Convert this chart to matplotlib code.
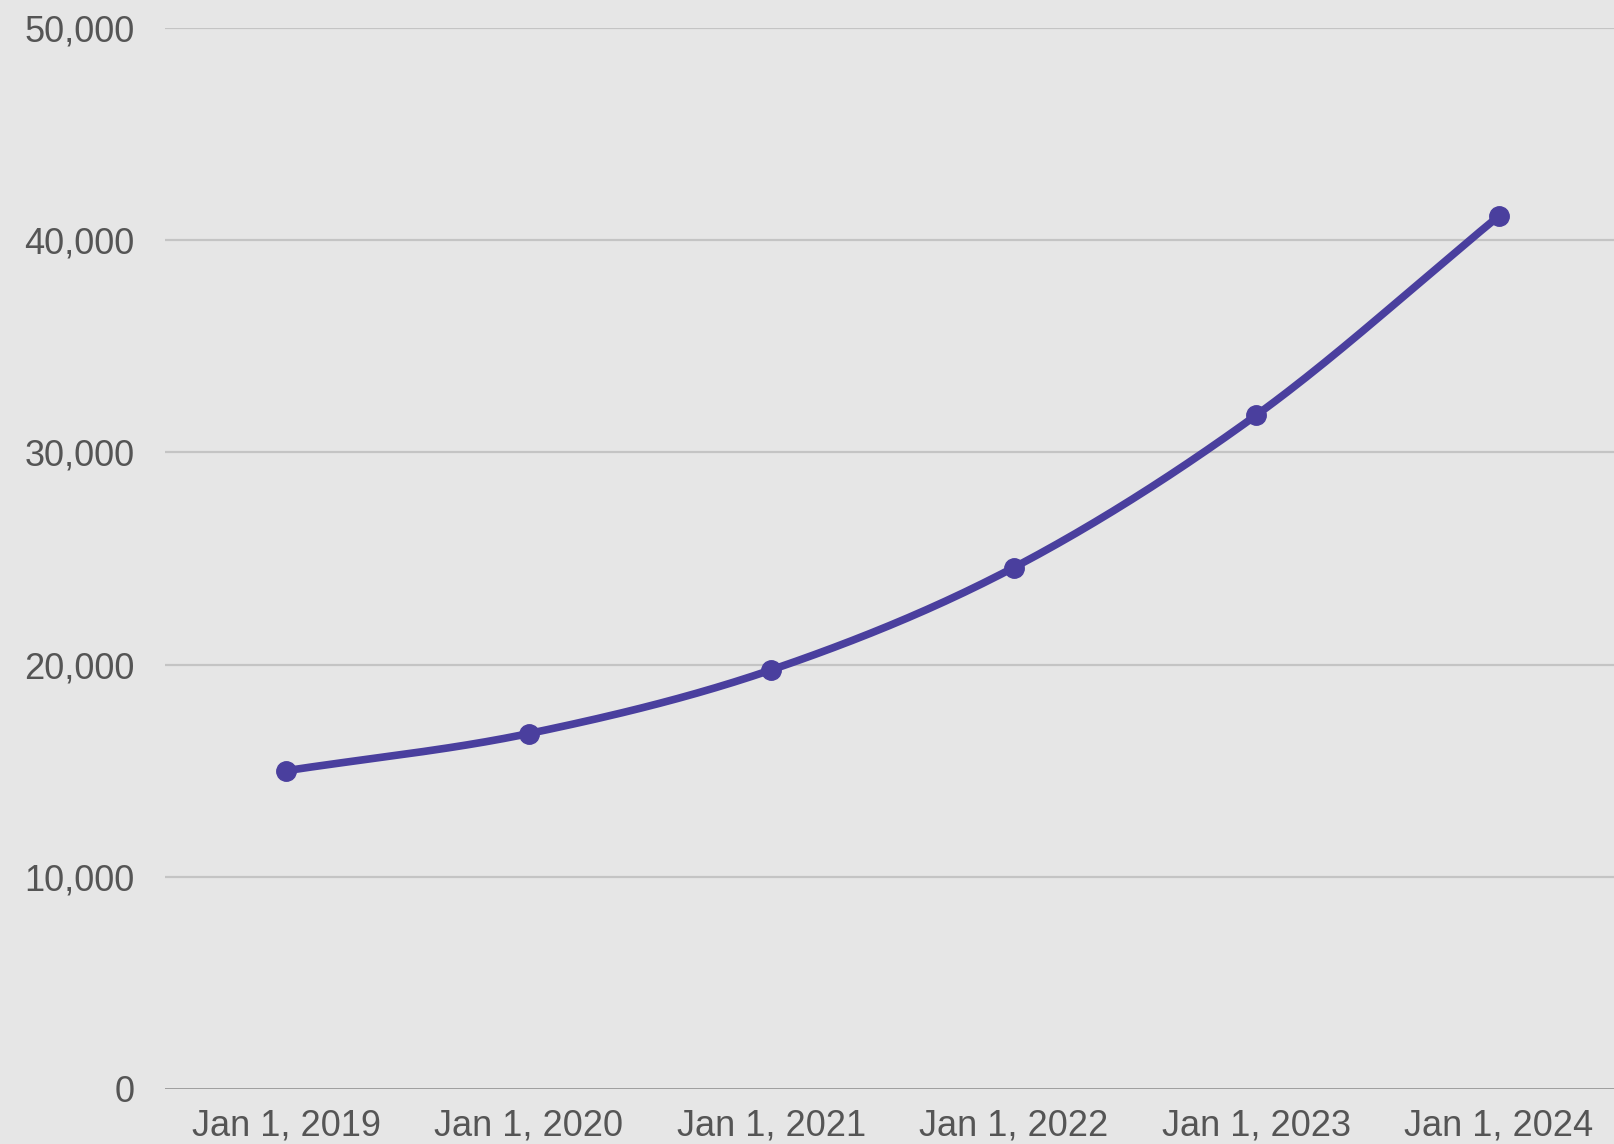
import numpy as np
import matplotlib
matplotlib.use('Agg')
import matplotlib.pyplot as plt
from matplotlib import font_manager

# data
dates = ['Jan 1, 2019', 'Jan 1, 2020', 'Jan 1, 2021',
         'Jan 1, 2022', 'Jan 1, 2023', 'Jan 1, 2024']
values = [15000, 16750, 19750, 24570, 31750, 41130]
y_ticks = [0, 10000, 20000, 30000, 40000, 50000]

names = {f.name for f in font_manager.fontManager.ttflist}
font = 'Liberation Sans Narrow' if 'Liberation Sans Narrow' in names else 'Liberation Sans'
plt.rcParams['font.family'] = [font, 'DejaVu Sans']


def smooth_curve(x, y, n=40):
    # Catmull-Rom style cubic through the points, only for drawing the line
    x = np.asarray(x, float)
    y = np.asarray(y, float)
    m = np.gradient(y, x)
    xs, ys = [], []
    for i in range(len(x) - 1):
        h = x[i + 1] - x[i]
        t = np.linspace(0, 1, n)
        h00 = 2 * t**3 - 3 * t**2 + 1
        h10 = t**3 - 2 * t**2 + t
        h01 = -2 * t**3 + 3 * t**2
        h11 = t**3 - t**2
        xs.append(x[i] + t * h)
        ys.append(h00 * y[i] + h10 * h * m[i] + h01 * y[i + 1] + h11 * h * m[i + 1])
    return np.concatenate(xs), np.concatenate(ys)


fig = plt.figure(figsize=(16.15, 11.44), dpi=100)
fig.patch.set_facecolor('#e6e6e6')
ax = fig.add_axes([165 / 1615, 1 - 1089 / 1144, 1450 / 1615, (1089 - 28) / 1144])
ax.set_facecolor('#e6e6e6')

pos = np.arange(len(dates))
cx, cy = smooth_curve(pos, values)
color = '#4a3f9e'
ax.plot(cx, cy, color=color, lw=5.5, solid_capstyle='round', zorder=3)
ax.plot(pos, values, 'o', color=color, ms=14, zorder=4)

ax.set_xlim(-0.5, 5.48)
ax.set_ylim(0, 50000)
ax.set_xticks(pos)
ax.set_xticklabels(dates)
ax.set_yticks(y_ticks)
ax.set_yticklabels([f'{v:,}' for v in y_ticks])
ax.tick_params(axis='both', length=0, labelsize=26, labelcolor='#555555')
ax.tick_params(axis='y', pad=22)
ax.tick_params(axis='x', pad=14)

for v in y_ticks[1:]:
    ax.axhline(v, color='#c4c4c4', lw=1.6, zorder=1)
ax.axhline(0, color='#8a8a8a', lw=1.8, zorder=2)

for s in ax.spines.values():
    s.set_visible(False)

fig.savefig('out.png', dpi=100, facecolor=fig.get_facecolor())
